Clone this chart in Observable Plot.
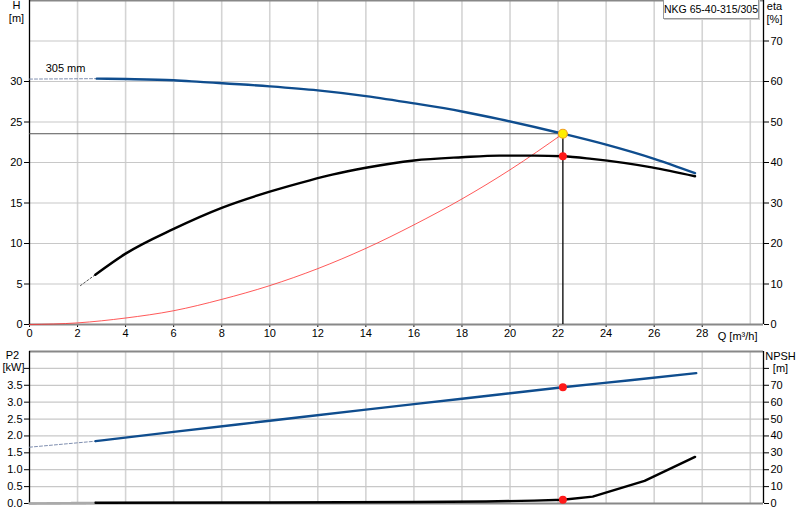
<!DOCTYPE html>
<html>
<head>
<meta charset="utf-8">
<script src="https://cdn.jsdelivr.net/npm/d3@7"></script>
<script src="https://cdn.jsdelivr.net/npm/@observablehq/plot@0.6"></script>
<style>
  html, body { margin: 0; padding: 0; background: #fff; }
  #wrap { position: relative; width: 800px; height: 520px; overflow: hidden; font-family: "Liberation Sans", Arial, sans-serif; }
  #wrap svg { display: block; }
  #box { position: absolute; left: 663px; top: -1px; width: 96px; height: 20px; border: 1px solid #999; background: #fff;
         font-size: 10.5px; line-height: 19px; text-align: center; color: #000; box-sizing: border-box; box-shadow: 1px 1px 0 #ccc;
         white-space: nowrap; z-index: 2; }
</style>
</head>
<body>
<div id="wrap"><div id="box">NKG 65-40-315/305</div></div>
<script>
// ---- data ----
const qGrid = [2, 4, 6, 8, 10, 12, 14, 16, 18, 20, 22, 24, 26, 28, 30];
const qLabels = [0, 2, 4, 6, 8, 10, 12, 14, 16, 18, 20, 22, 24, 26, 28];
const hTicks = [0, 5, 10, 15, 20, 25, 30, 35];
const pTicks = [0, 0.5, 1.0, 1.5, 2.0, 2.5, 3.0, 3.5, 4.0];

// Q-H curve
const qH = [2.8, 4, 6, 7.1, 10, 12, 14, 16, 18, 19.56, 22.2, 24, 26, 27.7];
const hH = [30.35, 30.3, 30.15, 29.95, 29.4, 28.9, 28.2, 27.3, 26.3, 25.35, 23.55, 22.2, 20.45, 18.68];
const qHext = [0, 2.8];
const hHext = [30.3, 30.35];

// efficiency curve (%)
const qEta = [2.74, 4, 6, 8, 10, 11.67, 12.6, 14, 16, 18, 19.56, 21, 22.2, 23.4, 25.9, 27.7];
const eta = [12.3, 17.5, 23.6, 28.8, 32.8, 35.6, 37.0, 38.7, 40.5, 41.3, 41.7, 41.7, 41.55, 40.9, 38.8, 36.6];
const qEtaExt = [2.12, 2.74];
const etaExt = [9.6, 12.3];

// system curve
const qSys = [0, 2, 4, 6, 8, 10, 12, 14, 16, 18, 20, 22.2];
const hSys = [0, 0.2, 0.8, 1.7, 3.1, 4.8, 6.9, 9.4, 12.3, 15.5, 19.1, 23.55];

// duty point
const dutyQ = 22.2, dutyH = 23.55, dutyEta = 41.55, dutyP2 = 3.44, dutyNpsh = 2.2;

// P2 (kW)
const qP2 = [2.75, 6, 10, 14, 18, 22.2, 25, 27.75];
const p2 = [1.845, 2.12, 2.45, 2.78, 3.1, 3.44, 3.65, 3.86];
const qP2ext = [0, 2.75];
const p2ext = [1.667, 1.845];

// NPSH (m)
const qNpsh = [2.75, 10, 16, 19, 21, 22.2, 23.44, 25.6, 27.7];
const npsh = [0.4, 0.6, 0.9, 1.2, 1.7, 2.2, 4.1, 13.4, 27.6];
const qNpshExt = [0, 2.75];
const npshExt = [0, 0.4];

const zip = (xs, ys) => xs.map((x, i) => ({q: x, v: ys[i]}));
const BLUE = "#0f4d8e";
const XMAX = 30.55;
const font = {fontFamily: "'Liberation Sans', Arial, sans-serif", fontSize: "11px", color: "#000", background: "transparent", overflow: "visible"};
const lab = (t, anchor, dx, dy) => Plot.text([t], {frameAnchor: anchor, dx, dy, textAnchor: "middle", lineAnchor: "middle"});

// ---- top panel: H and eta ----
const topChart = Plot.plot({
  width: 800, height: 340,
  marginLeft: 29, marginRight: 37, marginTop: 0, marginBottom: 16,
  style: font,
  x: {domain: [0, XMAX]},
  y: {domain: [0, 40]},
  marks: [
    Plot.gridX(qGrid, {stroke: "#d4d4d4", strokeOpacity: 1, strokeWidth: 1.6}),
    Plot.gridY(hTicks.slice(1), {stroke: "#c8c8c8", strokeOpacity: 1, strokeWidth: 1.2}),
    Plot.axisX(qLabels, {tickSize: 3, tickPadding: 2, tickFormat: d => d, label: null}),
    Plot.text(["Q [m³/h]"], {x: 30.3, y: 0, dy: 12, textAnchor: "end"}),
    Plot.axisY(hTicks.slice(0, 7), {anchor: "left", tickSize: 5, tickPadding: 2, tickFormat: d => d, label: null}),
    Plot.axisY(hTicks, {anchor: "right", tickSize: 5, tickPadding: 2, tickFormat: d => d * 2, label: null}),
    lab("H", "top-left", -13, 5),
    lab("[m]", "top-left", -13, 18),
    lab("eta", "top-right", 11, 6),
    lab("[%]", "top-right", 11, 19),
    Plot.ruleY([0], {stroke: "#888", strokeWidth: 2}),
    Plot.ruleY([40], {stroke: "#888", strokeWidth: 2}),
    Plot.ruleX([0], {stroke: "#000", strokeWidth: 1.3}),
    Plot.ruleX([XMAX], {stroke: "#000", strokeWidth: 1.3}),
    // system curve
    Plot.line(zip(qSys, hSys), {x: "q", y: "v", stroke: "#ff3030", strokeWidth: 1, strokeOpacity: 0.8, curve: "monotone-x"}),
    // duty lines
    Plot.ruleY([dutyH], {x1: 0, x2: dutyQ, stroke: "#555", strokeWidth: 1}),
    Plot.ruleX([dutyQ], {y1: 0, y2: dutyH, stroke: "#000", strokeWidth: 1.3}),
    // H curve
    Plot.line(zip(qHext, hHext), {x: "q", y: "v", stroke: "#7f8fb0", strokeWidth: 1, strokeDasharray: "3,2"}),
    Plot.line(zip(qH, hH), {x: "q", y: "v", stroke: BLUE, strokeWidth: 2.4, curve: "monotone-x"}),
    Plot.text(["305 mm"], {x: 1.5, y: 30.3, dy: -11, textAnchor: "middle", lineAnchor: "middle"}),
    // eta curve (plotted on the H scale, eta = 2 * H)
    Plot.line(zip(qEtaExt, etaExt), {x: "q", y: d => d.v / 2, stroke: "#555", strokeWidth: 1, strokeDasharray: "2,2"}),
    Plot.line(zip(qEta, eta), {x: "q", y: d => d.v / 2, stroke: "#000", strokeWidth: 2.4, curve: "monotone-x"}),
    Plot.dot([{q: dutyQ, v: dutyEta}], {x: "q", y: d => d.v / 2, r: 4, fill: "#ff1a1a", stroke: "none"}),
    Plot.dot([{q: dutyQ, v: dutyH}], {x: "q", y: "v", r: 4.5, fill: "#ffee00", stroke: "#f0a020", strokeWidth: 1.2})
  ]
});

// ---- bottom panel: P2 and NPSH ----
const bottomChart = Plot.plot({
  width: 800, height: 180,
  marginLeft: 29, marginRight: 37, marginTop: 11, marginBottom: 17,
  style: font,
  x: {domain: [0, XMAX], axis: null},
  y: {domain: [0, 4.5]},
  marks: [
    Plot.gridX(qGrid, {stroke: "#d4d4d4", strokeOpacity: 1, strokeWidth: 1.6}),
    Plot.gridY(pTicks.slice(1), {stroke: "#c8c8c8", strokeOpacity: 1, strokeWidth: 1.2}),
    Plot.axisY(pTicks, {anchor: "left", tickSize: 5, tickPadding: 2, tickFormat: d => d < 3.9 ? d.toFixed(1) : "", label: null}),
    Plot.axisY(pTicks, {anchor: "right", tickSize: 5, tickPadding: 2, tickFormat: d => d < 3.9 ? Math.round(d * 20) : "", label: null}),
    lab("P2", "top-left", -17, 4),
    lab("[kW]", "top-left", -16, 16),
    lab("NPSH", "top-right", 17, 5),
    lab("[m]", "top-right", 17, 17),
    Plot.ruleY([0], {stroke: "#888", strokeWidth: 2}),
    Plot.ruleY([4.5], {stroke: "#888", strokeWidth: 2}),
    Plot.ruleX([0], {stroke: "#000", strokeWidth: 1.3}),
    Plot.ruleX([XMAX], {stroke: "#000", strokeWidth: 1.3}),
    // P2
    Plot.line(zip(qP2ext, p2ext), {x: "q", y: "v", stroke: "#7f8fb0", strokeWidth: 1, strokeDasharray: "3,2"}),
    Plot.line(zip(qP2, p2), {x: "q", y: "v", stroke: BLUE, strokeWidth: 2.4, curve: "monotone-x"}),
    Plot.dot([{q: dutyQ, v: dutyP2}], {x: "q", y: "v", r: 4, fill: "#ff1a1a", stroke: "none"}),
    // NPSH (plotted on the P2 scale, NPSH = 20 * P2)
    Plot.line(zip(qNpshExt, npshExt), {x: "q", y: d => d.v / 20, stroke: "#aaa", strokeWidth: 2.4, strokeDasharray: "2,1"}),
    Plot.line(zip(qNpsh, npsh), {x: "q", y: d => d.v / 20, stroke: "#000", strokeWidth: 2.4}),
    Plot.dot([{q: dutyQ, v: dutyNpsh}], {x: "q", y: d => d.v / 20, r: 4, fill: "#ff1a1a", stroke: "none"})
  ]
});

const wrap = document.getElementById("wrap");
wrap.insertBefore(bottomChart, wrap.firstChild);
wrap.insertBefore(topChart, wrap.firstChild);
</script>
</body>
</html>
